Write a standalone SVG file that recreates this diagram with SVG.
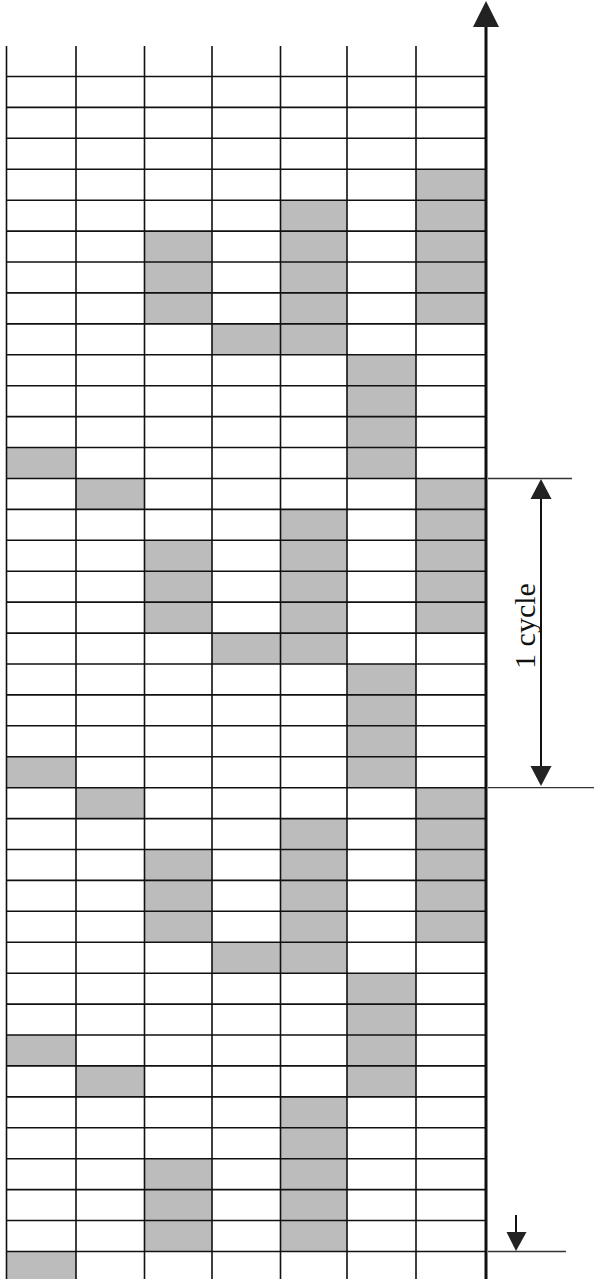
<svg xmlns="http://www.w3.org/2000/svg" width="594" height="1279" viewBox="0 0 594 1279">
<style>
.s{fill:#bcbcbc}
.g{stroke:#111;stroke-width:1.6;fill:none}
.m{stroke:#333;stroke-width:1.3;fill:none}
.a{stroke:#111;stroke-width:2;fill:none}
.h{fill:#222}
.t{font-family:"Liberation Serif","Times New Roman",serif;font-size:30px;fill:#111}
</style>
<rect width="594" height="1279" fill="#fff"/>
<g id="cells">
<rect class="s" x="416" y="169.3" width="70" height="30.9"/>
<rect class="s" x="280.5" y="200.2" width="66.5" height="30.9"/><rect class="s" x="416" y="200.2" width="70" height="30.9"/>
<rect class="s" x="144.5" y="231.1" width="67.5" height="30.9"/><rect class="s" x="280.5" y="231.1" width="66.5" height="30.9"/><rect class="s" x="416" y="231.1" width="70" height="30.9"/>
<rect class="s" x="144.5" y="262" width="67.5" height="30.9"/><rect class="s" x="280.5" y="262" width="66.5" height="30.9"/><rect class="s" x="416" y="262" width="70" height="30.9"/>
<rect class="s" x="144.5" y="292.9" width="67.5" height="30.9"/><rect class="s" x="280.5" y="292.9" width="66.5" height="30.9"/><rect class="s" x="416" y="292.9" width="70" height="30.9"/>
<rect class="s" x="212" y="323.9" width="68.5" height="30.9"/><rect class="s" x="280.5" y="323.9" width="66.5" height="30.9"/>
<rect class="s" x="347" y="354.8" width="69" height="30.9"/>
<rect class="s" x="347" y="385.7" width="69" height="30.9"/>
<rect class="s" x="347" y="416.6" width="69" height="30.9"/>
<rect class="s" x="6.5" y="447.5" width="69.5" height="30.9"/><rect class="s" x="347" y="447.5" width="69" height="30.9"/>
<rect class="s" x="76" y="478.5" width="68.5" height="30.9"/><rect class="s" x="416" y="478.5" width="70" height="30.9"/>
<rect class="s" x="280.5" y="509.4" width="66.5" height="30.9"/><rect class="s" x="416" y="509.4" width="70" height="30.9"/>
<rect class="s" x="144.5" y="540.3" width="67.5" height="30.9"/><rect class="s" x="280.5" y="540.3" width="66.5" height="30.9"/><rect class="s" x="416" y="540.3" width="70" height="30.9"/>
<rect class="s" x="144.5" y="571.2" width="67.5" height="30.9"/><rect class="s" x="280.5" y="571.2" width="66.5" height="30.9"/><rect class="s" x="416" y="571.2" width="70" height="30.9"/>
<rect class="s" x="144.5" y="602.1" width="67.5" height="30.9"/><rect class="s" x="280.5" y="602.1" width="66.5" height="30.9"/><rect class="s" x="416" y="602.1" width="70" height="30.9"/>
<rect class="s" x="212" y="633.1" width="68.5" height="30.9"/><rect class="s" x="280.5" y="633.1" width="66.5" height="30.9"/>
<rect class="s" x="347" y="664" width="69" height="30.9"/>
<rect class="s" x="347" y="694.9" width="69" height="30.9"/>
<rect class="s" x="347" y="725.8" width="69" height="30.9"/>
<rect class="s" x="6.5" y="756.7" width="69.5" height="30.9"/><rect class="s" x="347" y="756.7" width="69" height="30.9"/>
<rect class="s" x="76" y="787.7" width="68.5" height="30.9"/><rect class="s" x="416" y="787.7" width="70" height="30.9"/>
<rect class="s" x="280.5" y="818.6" width="66.5" height="30.9"/><rect class="s" x="416" y="818.6" width="70" height="30.9"/>
<rect class="s" x="144.5" y="849.5" width="67.5" height="30.9"/><rect class="s" x="280.5" y="849.5" width="66.5" height="30.9"/><rect class="s" x="416" y="849.5" width="70" height="30.9"/>
<rect class="s" x="144.5" y="880.4" width="67.5" height="30.9"/><rect class="s" x="280.5" y="880.4" width="66.5" height="30.9"/><rect class="s" x="416" y="880.4" width="70" height="30.9"/>
<rect class="s" x="144.5" y="911.3" width="67.5" height="30.9"/><rect class="s" x="280.5" y="911.3" width="66.5" height="30.9"/><rect class="s" x="416" y="911.3" width="70" height="30.9"/>
<rect class="s" x="212" y="942.3" width="68.5" height="30.9"/><rect class="s" x="280.5" y="942.3" width="66.5" height="30.9"/>
<rect class="s" x="347" y="973.2" width="69" height="30.9"/>
<rect class="s" x="347" y="1004.1" width="69" height="30.9"/>
<rect class="s" x="6.5" y="1035" width="69.5" height="30.9"/><rect class="s" x="347" y="1035" width="69" height="30.9"/>
<rect class="s" x="76" y="1065.9" width="68.5" height="30.9"/><rect class="s" x="347" y="1065.9" width="69" height="30.9"/>
<rect class="s" x="280.5" y="1096.9" width="66.5" height="30.9"/>
<rect class="s" x="280.5" y="1127.8" width="66.5" height="30.9"/>
<rect class="s" x="144.5" y="1158.7" width="67.5" height="30.9"/><rect class="s" x="280.5" y="1158.7" width="66.5" height="30.9"/>
<rect class="s" x="144.5" y="1189.6" width="67.5" height="30.9"/><rect class="s" x="280.5" y="1189.6" width="66.5" height="30.9"/>
<rect class="s" x="144.5" y="1220.5" width="67.5" height="30.9"/><rect class="s" x="280.5" y="1220.5" width="66.5" height="30.9"/>
<rect class="s" x="6.5" y="1251.5" width="69.5" height="28"/>
</g>
<g id="grid">
<path class="g" d="M6.5 46V1279M76 46V1279M144.5 46V1279M212 46V1279M280.5 46V1279M347 46V1279M416 46V1279"/>
<path class="g" d="M6 76.5H486M6 107.4H486M6 138.3H486M6 169.3H486M6 200.2H486M6 231.1H486M6 262H486M6 292.9H486M6 323.9H486M6 354.8H486M6 385.7H486M6 416.6H486M6 447.5H486M6 478.5H486M6 509.4H486M6 540.3H486M6 571.2H486M6 602.1H486M6 633.1H486M6 664H486M6 694.9H486M6 725.8H486M6 756.7H486M6 787.7H486M6 818.6H486M6 849.5H486M6 880.4H486M6 911.3H486M6 942.3H486M6 973.2H486M6 1004.1H486M6 1035H486M6 1065.9H486M6 1096.9H486M6 1127.8H486M6 1158.7H486M6 1189.6H486M6 1220.5H486M6 1251.5H486"/>
</g>
<g id="axis">
<line x1="486" y1="24" x2="486" y2="1279" stroke="#111" stroke-width="3"/>
<polygon class="h" points="486,1 473,27 499,27"/>
</g>
<g id="connectors">
<line class="m" x1="488" y1="478.5" x2="572" y2="478.5"/>
<line class="m" x1="488" y1="787.7" x2="594" y2="787.7"/>
<line class="m" x1="488" y1="1251.5" x2="566" y2="1251.5"/>
<line class="a" x1="541" y1="496" x2="541" y2="769"/>
<polygon class="h" points="541,479 530.5,499 551.5,499"/>
<polygon class="h" points="541,786 530.5,766 551.5,766"/>
<line class="a" x1="516" y1="1215" x2="516" y2="1234"/>
<polygon class="h" points="516,1251 506.5,1232 526.5,1232"/>
</g>
<g id="label">
<text class="t" transform="translate(535,626) rotate(-90)" text-anchor="middle">1 cycle</text>
</g>
</svg>
